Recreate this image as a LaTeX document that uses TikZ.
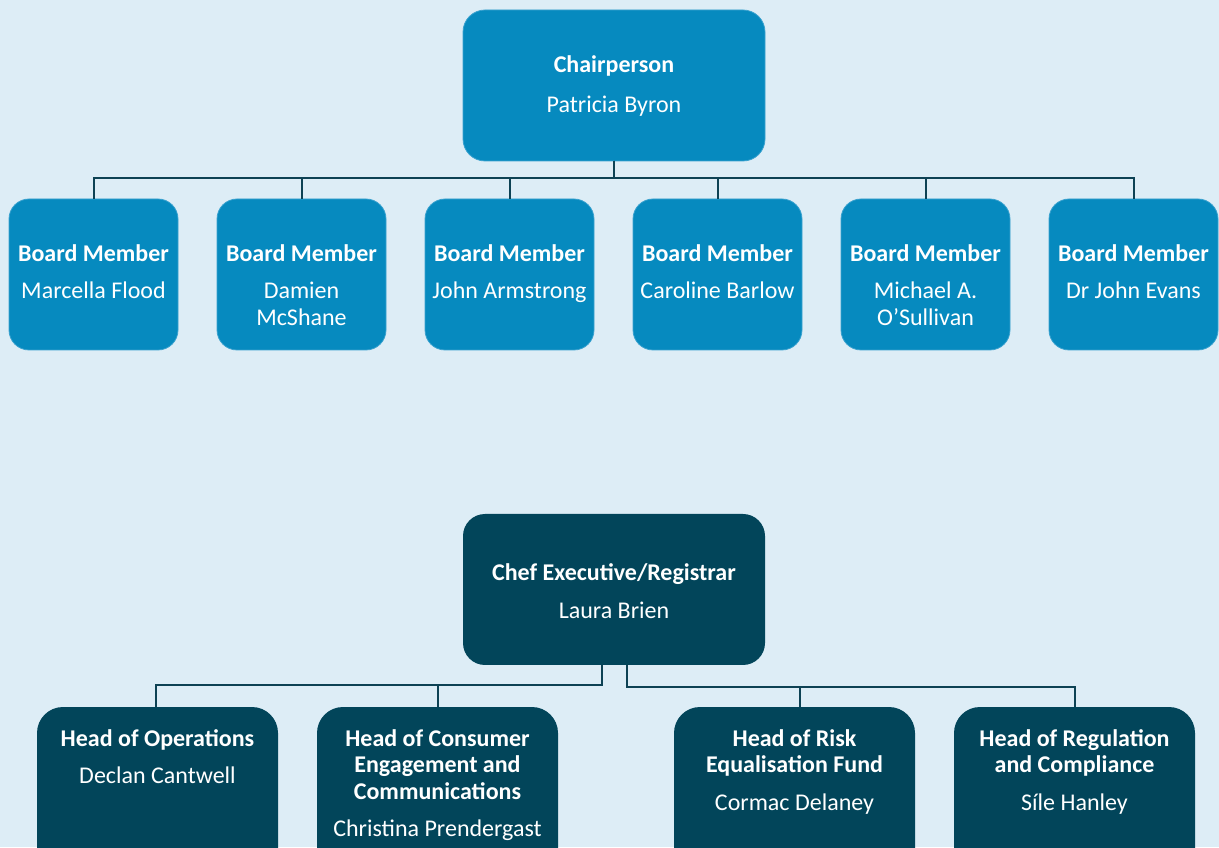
\documentclass[tikz,border=0pt]{standalone}
\usepackage{fontspec}
\usepackage{tikz}
\setmainfont{Carlito}
\definecolor{backcol}{HTML}{DDEDF6}
\definecolor{boardcol}{HTML}{068ABF}
\definecolor{boardrim}{HTML}{3AA2CF}
\definecolor{execcol}{HTML}{02455A}
\definecolor{linkcol}{HTML}{0D4254}
\usetikzlibrary{positioning}

\begin{document}
\begin{tikzpicture}[x=1pt,y=1pt]

  \tikzstyle{board} = [%
  draw=boardrim,
  fill=boardcol,
  inner sep=0pt,
  line width=0.8pt,
  minimum height=151pt,
  minimum width=169pt,
  outer sep=0pt,
  rectangle,
  rounded corners=20pt,
  ];

  \tikzstyle{chair} = [%
  board,
  minimum width=302pt,
  rounded corners=22pt,
  ];

  \tikzstyle{exec} = [%
  fill=execcol,
  inner sep=0pt,
  minimum height=151pt,
  minimum width=302pt,
  outer sep=0pt,
  rectangle,
  rounded corners=22pt,
  ];

  \tikzstyle{head} = [%
  exec,
  minimum height=170pt,
  minimum width=241pt,
  rounded corners=26pt,
  ];

  \tikzstyle{txt} = [%
  align=center,
  font=\fontsize{24}{26.5}\selectfont,
  inner sep=0pt,
  text=white,
  ];

  \tikzset{link/.style=
    {
      draw=linkcol,
      line width=2pt,
    }
  }

  \useasboundingbox (0,0) rectangle (1219,847);
  \fill[backcol] (0,0) rectangle (1219,847);
  \clip (0,0) rectangle (1219,847);

  % board
  \node[chair] (chair) at (614,761.5) {};
  \node[board] (m1) at (93.5,572.5) {};
  \node[board, right=39pt of m1] (m2) {};
  \node[board, right=39pt of m2] (m3) {};
  \node[board, right=39pt of m3] (m4) {};
  \node[board, right=39pt of m4] (m5) {};
  \node[board, right=39pt of m5] (m6) {};

  \node[txt, below=45pt of chair.north] (chairtext)
    {\textbf{Chairperson}\\[14pt]Patricia Byron};
  \node[txt, below=45pt of m1.north] (m1text)
    {\textbf{Board Member}\\[11pt]Marcella Flood};
  \node[txt, below=45pt of m2.north] (m2text)
    {\textbf{Board Member}\\[11pt]Damien\\McShane};
  \node[txt, below=45pt of m3.north] (m3text)
    {\textbf{Board Member}\\[11pt]John Armstrong};
  \node[txt, below=45pt of m4.north] (m4text)
    {\textbf{Board Member}\\[11pt]Caroline Barlow};
  \node[txt, below=45pt of m5.north] (m5text)
    {\textbf{Board Member}\\[11pt]Michael A.\\O’Sullivan};
  \node[txt, below=45pt of m6.north] (m6text)
    {\textbf{Board Member}\\[11pt]Dr John Evans};

  \draw[link] (chair.south) -- ++(0,-17) -| (m1.north);
  \draw[link] (chair.south) -- ++(0,-17) -| (m2.north);
  \draw[link] (chair.south) -- ++(0,-17) -| (m3.north);
  \draw[link] (chair.south) -- ++(0,-17) -| (m4.north);
  \draw[link] (chair.south) -- ++(0,-17) -| (m5.north);
  \draw[link] (chair.south) -- ++(0,-17) -| (m6.north);

  % executive
  \node[exec] (ceo) at (614,257.5) {};
  \node[head] (h1) at (157.5,55) {};
  \node[head, right=39pt of h1] (h2) {};
  \node[head] (h3) at (794.5,55) {};
  \node[head, right=39pt of h3] (h4) {};

  \node[txt, below=49pt of ceo.north] (ceotext)
    {\textbf{Chef Executive/Registrar}\\[12pt]Laura Brien};
  \node[txt, below=22pt of h1.north] (h1text)
    {\textbf{Head of Operations}\\[11pt]Declan Cantwell};
  \node[txt, below=22pt of h2.north] (h2text)
    {\textbf{Head of Consumer}\\\textbf{Engagement and}\\\textbf{Communications}\\[11pt]Christina Prendergast};
  \node[txt, below=22pt of h3.north] (h3text)
    {\textbf{Head of Risk}\\\textbf{Equalisation Fund}\\[11pt]Cormac Delaney};
  \node[txt, below=22pt of h4.north] (h4text)
    {\textbf{Head of Regulation}\\\textbf{and Compliance}\\[11pt]Síle Hanley};

  \draw[link] ([xshift=-12.5pt]ceo.south) -- ++(0,-20) -| ([xshift=-1.5pt]h1.north);
  \draw[link] ([xshift=-12.5pt]ceo.south) -- ++(0,-20) -| (h2.north);
  \draw[link] ([xshift=12.5pt]ceo.south) -- ++(0,-22) -| ([xshift=5.5pt]h3.north);
  \draw[link] ([xshift=12.5pt]ceo.south) -- ++(0,-22) -| (h4.north);

\end{tikzpicture}
\end{document}
